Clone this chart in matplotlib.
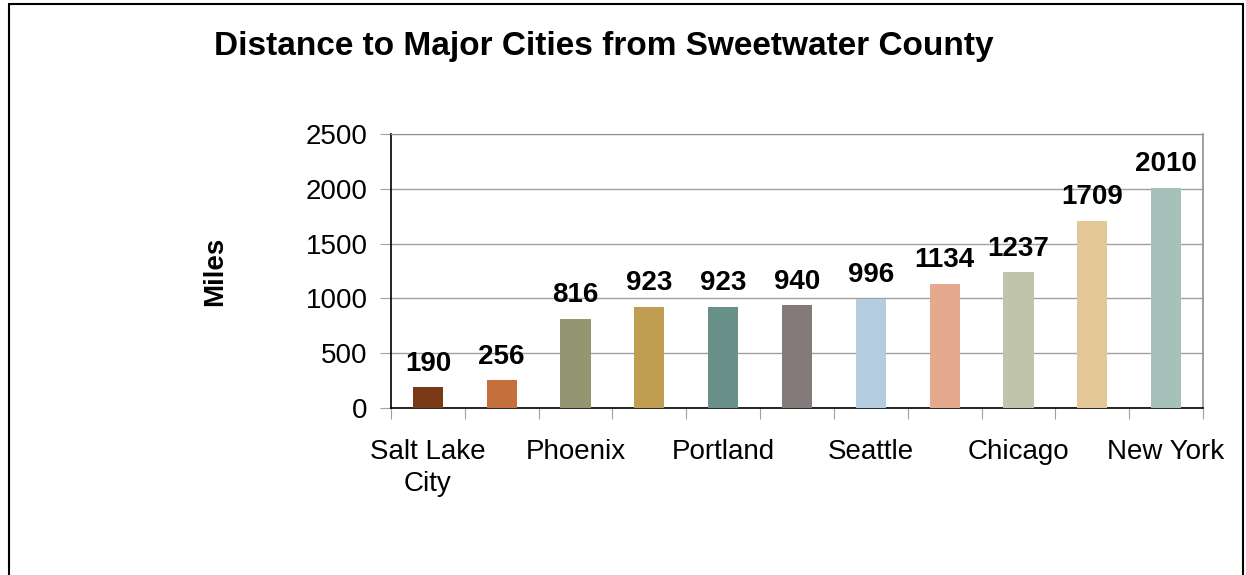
import numpy as np
import matplotlib.pyplot as plt
from matplotlib.patches import Rectangle

# data
miles = [190, 256, 816, 923, 923, 940, 996, 1134, 1237, 1709, 2010]
tick_labels = ['Salt Lake\nCity', '', 'Phoenix', '', 'Portland', '', 'Seattle',
               '', 'Chicago', '', 'New York']
bar_colors = ['#7B3A17', '#C5703D', '#939670', '#BF9E52', '#6A9189', '#857A7A',
              '#B4CCE0', '#E4A98F', '#C0C4AA', '#E3C796', '#A6C1BA']

plt.rcParams['font.family'] = ['Liberation Sans', 'DejaVu Sans']

fig = plt.figure(figsize=(12.46, 5.75), dpi=100)
ax = fig.add_axes([391/1246, 1 - 408/575, (1203 - 391)/1246, (408 - 134)/575])

x = np.arange(len(miles))
ax.bar(x, miles, width=0.41, color=bar_colors, zorder=3)

for xi, v in zip(x, miles):
    ax.text(xi, v + 95, str(v), ha='center', va='bottom', fontsize=20,
            fontweight='bold', zorder=4)

ax.set_xlim(-0.5, len(miles) - 0.5)
ax.set_ylim(0, 2500)
ax.set_yticks(np.arange(0, 2501, 500))
ax.yaxis.grid(True, color='#A0A0A0', linewidth=1)
ax.set_axisbelow(True)

# ticks at category boundaries, labels at centers
ax.set_xticks(np.arange(-0.5, len(miles), 1.0))
ax.set_xticklabels([])
ax.set_xticks(x, minor=True)
ax.set_xticklabels(tick_labels, minor=True, fontsize=20, linespacing=1.3)
ax.tick_params(axis='x', which='major', length=8, color='#A0A0A0', direction='out')
ax.tick_params(axis='x', which='minor', length=0, pad=22)
ax.tick_params(axis='y', length=8, color='#A0A0A0', labelsize=20, pad=9)

ax.spines['left'].set_color('black')
ax.spines['bottom'].set_color('black')
ax.spines['left'].set_linewidth(1.2)
ax.spines['bottom'].set_linewidth(1.2)
ax.spines['top'].set_color('#909090')
ax.spines['right'].set_color('#909090')
ax.spines['right'].set_linewidth(1.2)

ax.set_ylabel('Miles', fontsize=20, fontweight='bold', labelpad=0)
ax.yaxis.set_label_coords(-0.2, 0.5)

fig.text(604/1246, 1 - 46/575, 'Distance to Major Cities from Sweetwater County',
         ha='center', va='center', fontsize=24, fontweight='bold')

# outer frame
fig.patches.append(Rectangle((9/1246, -0.05), (1243 - 9)/1246, 1.05 - 4/575,
                             transform=fig.transFigure, fill=False,
                             edgecolor='black', linewidth=1.5))

fig.savefig('out.png', dpi=100)
